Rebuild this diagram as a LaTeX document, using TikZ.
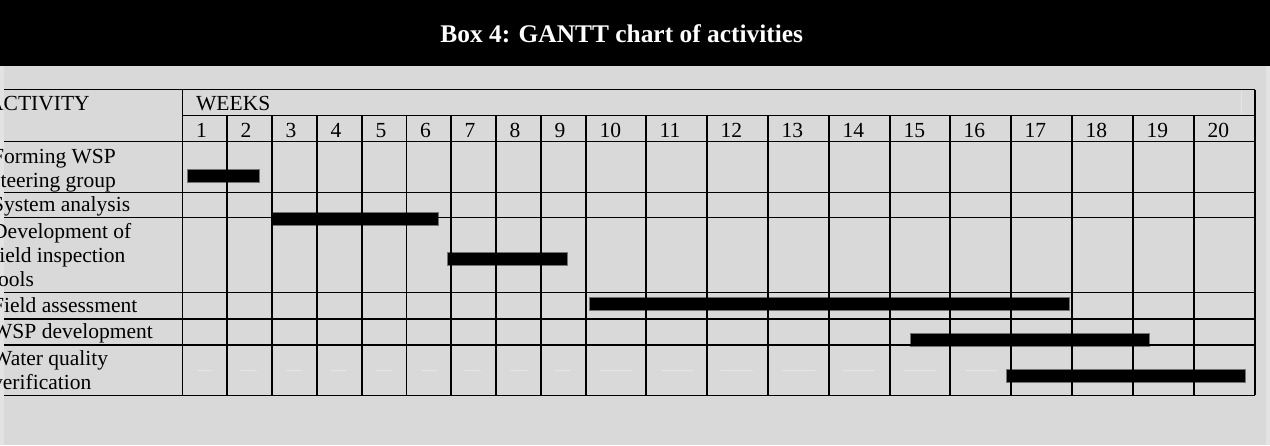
\documentclass[tikz,border=0pt]{standalone}
\usepackage{fontspec}
\setmainfont{Liberation Serif}
\definecolor{bg}{HTML}{D9D9D9}
\definecolor{edge}{HTML}{E3E3E3}
\definecolor{faint}{HTML}{E6E6E6}
\begin{document}
\begin{tikzpicture}[x=1pt,y=-1pt,
  gridline/.style={line width=1.3pt},
  bar/.style={fill=black, draw=black!55, line width=0.6pt},
  lbl/.style={anchor=base west, inner sep=0pt, font=\fontsize{21.5}{24}\selectfont},
  faintdash/.style={draw=faint, line width=0.8pt}]
\useasboundingbox (0,0) rectangle (1270,445);
% background and header band
\fill[bg] (0,0) rectangle (1270,445);
\fill[edge] (1265.5,65.7) rectangle (1270,445);
\fill[edge] (0,65.7) rectangle (3.5,445);
\fill[black] (0,0) rectangle (1270,65.7);
\node[anchor=base, inner sep=0pt, text=white, font=\fontsize{25.4}{28}\selectfont\bfseries] (title) at (621.7,42.7) {Box 4: GANTT chart of activities};
% faint marks in the last row
\foreach \a/\b in {197/212,241/257,286/302,331/347,376/392,421/437,465/481,510/527,555/571,600/632,661/693,721/753,782/815,843/875,904/936,965/997}
  \draw[faintdash] (\a,370.3) -- (\b,370.3);
\draw[faintdash] (1241,90.5) -- (1241,115);
% bars
\draw[bar] (187.3,169.3) rectangle (259,182.7);
\draw[bar] (272,212.7) rectangle (438.3,225.7);
\draw[bar] (447,252.3) rectangle (567,265.7);
\draw[bar] (589.7,297.7) rectangle (1069.7,310.7);
\draw[bar] (910,333.7) rectangle (1149.7,346.3);
\draw[bar] (1006,369.7) rectangle (1245.7,382);
% grid
\draw[gridline] (4,89.5) -- (1255,89.5);
\draw[gridline] (182.3,115.7) -- (1255,115.7);
\foreach \y in {141.7,192.7,217.7,292.7,319,345,395.3}
  \draw[gridline] (4,\y) -- (1255,\y);
\draw[gridline] (182.3,89.5) -- (182.3,395.3);
\draw[gridline] (1255,89.5) -- (1255,395.3);
\foreach \x in {227,272,317,362,406.3,451,496,541,586,646,707,768,829,890,950,1011,1072,1133,1194}
  \draw[gridline] (\x,115.7) -- (\x,395.3);
% header texts
\node[lbl] (activity) at (-12,110.7) {ACTIVITY};
\node[lbl] (weeks) at (196,110.7) {WEEKS};
\foreach \n/\x in {1/182.3,2/227,3/272,4/317,5/362,6/406.3,7/451,8/496,9/541,10/586,11/646,12/707,13/768,14/829,15/890,16/950,17/1011,18/1072,19/1133,20/1194}
  \node[lbl] (w\n) at (\x+13.5,137.3) {\n};
% activity labels
\node[lbl] (a1) at (-8,163.3) {\parbox[t]{180pt}{\raggedright Forming WSP\\steering group}};
\node[lbl] (a2) at (-8,211.7) {System analysis};
\node[lbl] (a3) at (-8,238.3) {\parbox[t]{180pt}{\raggedright Development of\\field inspection\\tools}};
\node[lbl] (a4) at (-8,312.7) {Field assessment};
\node[lbl] (a5) at (-8,338.3) {WSP development};
\node[lbl] (a6) at (-8,365.5) {\parbox[t]{180pt}{\raggedright Water quality\\verification}};
\end{tikzpicture}
\end{document}
